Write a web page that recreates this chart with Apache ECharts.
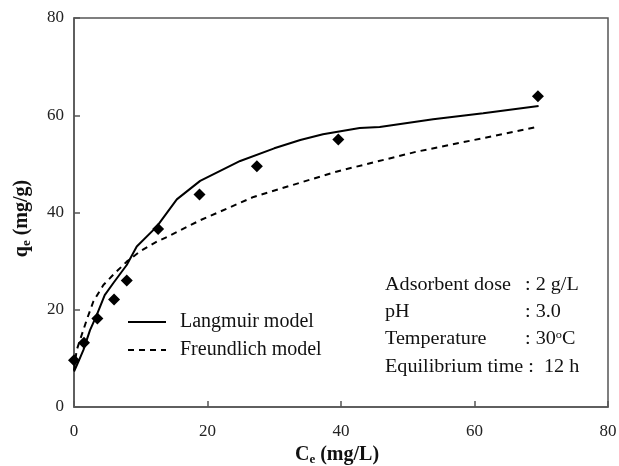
<!DOCTYPE html>
<html><head><meta charset="utf-8">
<script src="https://cdn.jsdelivr.net/npm/echarts@6/dist/echarts.min.js"></script>
<style>html,body{margin:0;padding:0;background:#fff}#c{width:619px;height:466px}</style>
</head><body><div id="c"></div>
<script>
var expCe = [0, 1.5, 3.5, 6.0, 7.9, 12.6, 18.8, 27.4, 39.6, 69.5];
var expQe = [9.6, 13.2, 18.2, 22.1, 26.0, 36.6, 43.7, 49.5, 55.0, 63.9];
var langCe = [0, 0.65, 1.4, 2.4, 3.4, 4.6, 5.9, 7.9, 9.4, 12.4, 15.4, 18.9, 24.9, 30, 33.9, 37.3, 42.8, 45.8, 53.8, 61.3, 69.6];
var langQe = [7.3, 9.3, 11.7, 15.8, 18.9, 23.0, 25.5, 29.2, 33.0, 37.1, 42.7, 46.5, 50.6, 53.2, 54.9, 56.1, 57.4, 57.6, 59.2, 60.4, 61.9];
var freuCe = [0, 0.4, 1.15, 1.9, 2.9, 4.4, 6.1, 7.9, 9.9, 12.4, 14.0, 18.9, 26.9, 39.3, 51.3, 61.3, 69.3];
var freuQe = [7.6, 11.7, 14.8, 17.9, 21.7, 25.1, 27.5, 29.9, 32.0, 34.0, 35.0, 38.4, 43.2, 48.4, 52.5, 55.3, 57.6];
var axisTicks = [0, 20, 40, 60, 80];
var infoLeft = ['Adsorbent dose', 'pH', 'Temperature'];
var infoRight = [': 2 g/L', ': 3.0', ': 30{sup|o}C'];
var infoLast = 'Equilibrium time :  12 h';

function zip(a, b) { return a.map(function (v, i) { return [v, b[i]]; }); }
var F = 'Liberation Serif';
var chart = echarts.init(document.getElementById('c'));
var axisCommon = {
  min: axisTicks[0], max: axisTicks[axisTicks.length - 1], interval: axisTicks[1] - axisTicks[0],
  axisLine: { show: true, lineStyle: { color: '#555', width: 1.5 } },
  axisTick: { show: true, inside: true, length: 6, lineStyle: { color: '#555', width: 1.5 } },
  splitLine: { show: false },
  nameLocation: 'middle'
};
var titleRich = {
  b: { fontFamily: F, fontSize: 20, fontWeight: 'bold', color: '#111' },
  s: { fontFamily: F, fontSize: 13, fontWeight: 'bold', color: '#111', padding: [9, 0, 0, 0] }
};
var graphics = [];
var infoFont = '18px "' + F + '"';
var SX = 1.12;
infoLeft.forEach(function (t, i) {
  graphics.push({ type: 'text', x: 385, y: 285 + i * 27.3, scaleX: SX, style: { text: t, font: infoFont, fill: '#111', verticalAlign: 'middle' } });
  graphics.push({ type: 'text', x: 525, y: 285 + i * 27.3, scaleX: SX, style: { text: infoRight[i], font: infoFont, fill: '#111', verticalAlign: 'middle',
    rich: { sup: { fontSize: 11, fontFamily: F, fill: '#111', padding: [0, 0, 9, 0] } } } });
});
graphics.push({ type: 'text', x: 385, y: 285 + 3 * 27.3, scaleX: SX, style: { text: infoLast, font: infoFont, fill: '#111', verticalAlign: 'middle' } });

chart.setOption({
  animation: false,
  backgroundColor: '#fff',
  grid: { left: 74, right: 11, top: 18, bottom: 59, show: true, borderColor: '#555', borderWidth: 1.5,
    containLabel: false, outerBoundsMode: 'none' },
  xAxis: Object.assign({}, axisCommon, {
    type: 'value',
    axisLabel: { margin: 16, fontFamily: F, fontSize: 17, color: '#222' },
    name: '{b|C}{s|e}{b| (mg/L)}', nameGap: 28,
    nameTextStyle: { rich: titleRich, padding: [0, 8, 0, 0] }
  }),
  yAxis: Object.assign({}, axisCommon, {
    type: 'value',
    axisLabel: { margin: 10, fontFamily: F, fontSize: 17, color: '#222' },
    name: '{b|q}{s|e}{b| (mg/g)}', nameGap: 41, nameRotate: 90,
    nameTextStyle: { rich: titleRich, padding: [0, 12, 0, 0] }
  }),
  legend: {
    orient: 'vertical', left: 122, top: 307, itemWidth: 38, itemHeight: 14, itemGap: 8,
    itemStyle: { opacity: 0 },
    textStyle: { fontFamily: F, fontSize: 20, color: '#111', padding: [0, 0, 0, 9] },
    data: ['Langmuir model', 'Freundlich model']
  },
  series: [
    { name: 'Experimental', type: 'scatter', data: zip(expCe, expQe), symbol: 'diamond', symbolSize: 12,
      itemStyle: { color: '#000', opacity: 1 }, z: 5 },
    { name: 'Langmuir model', type: 'line', data: zip(langCe, langQe), showSymbol: false, symbol: 'none',
      lineStyle: { color: '#000', width: 2, type: 'solid' }, itemStyle: { color: '#000' } },
    { name: 'Freundlich model', type: 'line', data: zip(freuCe, freuQe), showSymbol: false, symbol: 'none',
      lineStyle: { color: '#000', width: 2, type: [6, 5] }, itemStyle: { color: '#000' } }
  ],
  graphic: graphics
});
</script></body></html>
